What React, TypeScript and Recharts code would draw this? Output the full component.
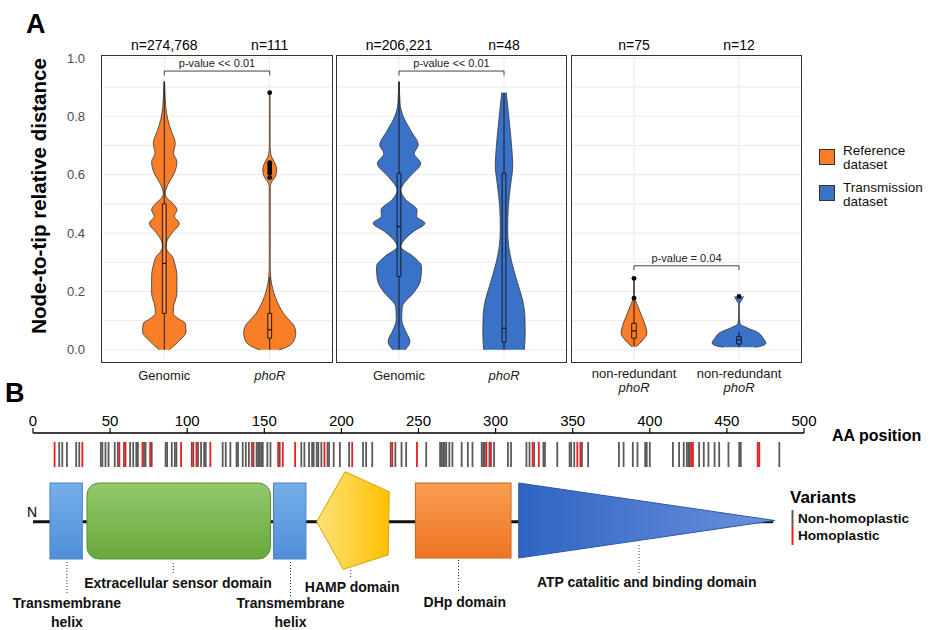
import React from 'react';
import {
  Area,
  CartesianGrid,
  ComposedChart,
  ReferenceArea,
  ReferenceDot,
  ReferenceLine,
  XAxis,
  YAxis,
} from 'recharts';

const FONT = '"Liberation Sans", Arial, Helvetica, sans-serif';
const ORANGE = '#fa7d28';
const BLUE = '#3a72c8';
const OUTLINE = '#333333';

// ---------- panel A: violin profiles (value, half width in category units) ----------
const refGenomicY = [0.919, 0.87, 0.833, 0.793, 0.75, 0.708, 0.673, 0.645, 0.605, 0.575, 0.559, 0.536, 0.519, 0.5, 0.479, 0.457, 0.434, 0.4, 0.375, 0.354, 0.335, 0.32, 0.297, 0.251, 0.194, 0.148, 0.125, 0.105, 0.091, 0.062, 0.028, 0.0];
const refGenomicW = [0.003, 0.008, 0.014, 0.031, 0.066, 0.104, 0.088, 0.12, 0.095, 0.047, 0.026, 0.009, 0.028, 0.085, 0.12, 0.095, 0.142, 0.073, 0.028, 0.014, 0.038, 0.076, 0.098, 0.12, 0.12, 0.088, 0.085, 0.142, 0.199, 0.206, 0.133, 0.047];
const refPhoRY = [0.881, 0.84, 0.7, 0.67, 0.656, 0.635, 0.616, 0.595, 0.576, 0.56, 0.3, 0.245, 0.21, 0.183, 0.15, 0.125, 0.1, 0.086, 0.057, 0.028, 0.005, 0.0];
const refPhoRW = [0.003, 0.003, 0.004, 0.01, 0.025, 0.055, 0.066, 0.055, 0.02, 0.005, 0.004, 0.01, 0.028, 0.05, 0.09, 0.13, 0.19, 0.225, 0.247, 0.225, 0.13, 0.09];
const trGenomicY = [0.919, 0.845, 0.799, 0.75, 0.702, 0.673, 0.639, 0.594, 0.565, 0.548, 0.514, 0.479, 0.457, 0.434, 0.405, 0.375, 0.354, 0.32, 0.285, 0.24, 0.194, 0.16, 0.148, 0.103, 0.068, 0.028, 0.0];
const trGenomicW = [0.003, 0.01, 0.041, 0.114, 0.183, 0.145, 0.206, 0.104, 0.038, 0.016, 0.066, 0.171, 0.168, 0.247, 0.136, 0.047, 0.016, 0.136, 0.215, 0.206, 0.136, 0.047, 0.031, 0.026, 0.057, 0.104, 0.057];
const trPhoRY = [0.881, 0.8, 0.696, 0.63, 0.573, 0.491, 0.411, 0.354, 0.297, 0.228, 0.171, 0.114, 0.057, 0.0];
const trPhoRW = [0.022, 0.045, 0.073, 0.083, 0.066, 0.041, 0.035, 0.045, 0.076, 0.13, 0.177, 0.199, 0.202, 0.193];
const nrRefY = [0.245, 0.19, 0.177, 0.17, 0.148, 0.114, 0.08, 0.057, 0.034, 0.011];
const nrRefW = [0.003, 0.005, 0.01, 0.014, 0.038, 0.076, 0.111, 0.123, 0.085, 0.022];
const nrTrY = [0.183, 0.17, 0.155, 0.12, 0.09, 0.075, 0.062, 0.04, 0.023, 0.012, 0.009];
const nrTrW = [0.043, 0.024, 0.003, 0.003, 0.01, 0.08, 0.168, 0.23, 0.256, 0.2, 0.15];

// box stats: [lower whisker, q1, median, q3, upper whisker]
const refGenomicBox = [0, 0.125, 0.296, 0.5, 0.919];
const refPhoRBox = [0, 0.04, 0.069, 0.125, 0.25];
const trGenomicBox = [0, 0.251, 0.422, 0.605, 0.919];
const trPhoRBox = [0, 0.026, 0.074, 0.605, 0.881];
const nrRefBox = [0.011, 0.04, 0.065, 0.091, 0.168];
const nrTrBox = [0.009, 0.02, 0.034, 0.045, 0.062];

const refPhoROutliers = [0.59, 0.605, 0.613, 0.62, 0.627, 0.634, 0.641, 0.881];
const nrRefOutliers = [0.177, 0.245];
const nrTrOutliers = [0.183];

const yTicks = [0, 0.2, 0.4, 0.6, 0.8, 1.0];
const gridY = [0, 0.1, 0.2, 0.3, 0.4, 0.5, 0.6, 0.7, 0.8, 0.9, 1.0];

const facets = [
  {
    left: 0, width: 333, showY: true,
    ns: ['n=274,768', 'n=111'],
    labels: [[{ t: 'Genomic' }], [{ t: 'phoR', i: true }]],
    pLabel: 'p-value << 0.01', pY: 0.955,
    violins: [
      { key: 'a', pos: 1, color: ORANGE, ys: refGenomicY, ws: refGenomicW, box: refGenomicBox, out: [] as number[] },
      { key: 'b', pos: 2, color: ORANGE, ys: refPhoRY, ws: refPhoRW, box: refPhoRBox, out: refPhoROutliers },
    ],
  },
  {
    left: 336, width: 231, showY: false,
    ns: ['n=206,221', 'n=48'],
    labels: [[{ t: 'Genomic' }], [{ t: 'phoR', i: true }]],
    pLabel: 'p-value << 0.01', pY: 0.955,
    violins: [
      { key: 'c', pos: 1, color: BLUE, ys: trGenomicY, ws: trGenomicW, box: trGenomicBox, out: [] as number[] },
      { key: 'd', pos: 2, color: BLUE, ys: trPhoRY, ws: trPhoRW, box: trPhoRBox, out: [] as number[] },
    ],
  },
  {
    left: 571, width: 231, showY: false,
    ns: ['n=75', 'n=12'],
    labels: [[{ t: 'non-redundant' }, { t: 'phoR', i: true }], [{ t: 'non-redundant' }, { t: 'phoR', i: true }]],
    pLabel: 'p-value = 0.04', pY: 0.288,
    violins: [
      { key: 'e', pos: 1, color: ORANGE, ys: nrRefY, ws: nrRefW, box: nrRefBox, out: nrRefOutliers },
      { key: 'f', pos: 2, color: BLUE, ys: nrTrY, ws: nrTrW, box: nrTrBox, out: nrTrOutliers },
    ],
  },
];

// ---------- panel B ----------
const aaTicks = [0, 50, 100, 150, 200, 250, 300, 350, 400, 450, 500];
const nonHomoplastic = [17, 19, 22, 28, 30, 44, 45, 47, 49, 53, 55, 59, 63, 65, 67, 68, 72, 73, 77, 86, 87, 90, 92, 93, 104, 107, 109, 111, 112, 123, 125, 128, 132, 133, 136, 138, 140, 143, 145, 146, 147, 148, 149, 152, 154, 160, 174, 176, 179, 181, 182, 184, 185, 187, 191, 192, 195, 199, 205, 214, 216, 220, 232, 235, 239, 242, 255, 264, 265, 266, 267, 268, 270, 272, 278, 282, 285, 291, 292, 293, 296, 299, 308, 310, 320, 322, 325, 331, 332, 340, 348, 349, 351, 356, 360, 380, 383, 389, 392, 397, 398, 400, 415, 419, 422, 424, 425, 426, 432, 435, 438, 442, 445, 451, 458, 459, 484];
const homoplastic = [14, 32, 56, 60, 71, 76, 96, 103, 106, 115, 142, 159, 162, 170, 189, 207, 233, 249, 294, 297, 324, 328, 353, 355, 427, 428, 470, 471];

const domainKinds = ['tm', 'sensor', 'tm', 'hamp', 'dhp', 'atp'];
const domainStart = [11, 35, 156, 184, 248, 315];
const domainEnd = [32, 154, 177, 231, 310, 481];
const leaderAA = [22, 91, 167, 206, 276, 393];
const leaderTop = [129, 130, 129, 137, 127, 112];
const leaderBottom = [162, 140, 165, 144, 160, 140];
const labelAA = [22, 94, 167, 207, 280, 398];
const labelY = [170, 150, 170, 154, 169, 149];
const labelText = [
  ['Transmembrane', 'helix'],
  ['Extracellular sensor domain'],
  ['Transmembrane', 'helix'],
  ['HAMP domain'],
  ['DHp domain'],
  ['ATP catalitic and binding domain'],
];
// invisible rows that give the layout axis of panel B its extent
const layoutRows = [
  { a: 0, b: 0 },
  { a: 500, b: 197 },
];

function buildRows(violins: any[]) {
  const rows: any[] = [];
  violins.forEach((v) => {
    v.ys.forEach((y: number, i: number) => {
      rows.push({ y, [v.key + 'L']: v.pos - v.ws[i], [v.key + 'R']: v.pos + v.ws[i] });
    });
  });
  return rows.sort((a, b) => b.y - a.y);
}

function Facet({ facet }: { facet: any }) {
  const rows = buildRows(facet.violins);
  const bw = facet.pY < 0.5 ? 0.022 : 0.018;
  return (
    <div style={{ position: 'absolute', left: facet.left, top: 0 }}>
      <ComposedChart
        layout="vertical"
        width={facet.width}
        height={400}
        data={rows}
        margin={{ top: 35, right: 0, bottom: 0, left: facet.showY ? 50 : 0 }}
      >
        <CartesianGrid stroke="#ebebeb" horizontalValues={gridY} verticalValues={[1, 2]} />
        <XAxis
          type="number"
          domain={[0.4, 2.6]}
          ticks={[1, 2]}
          allowDataOverflow
          height={37}
          axisLine={false}
          tickLine={false}
          tickSize={0}
          tickMargin={0}
          tick={(p: any) => (
            <g>
              {facet.labels[p.payload.value - 1].map((l: any, i: number, arr: any[]) => (
                <text
                  key={i}
                  x={p.x}
                  y={p.y + (arr.length > 1 ? 15 + i * 14 : 17)}
                  textAnchor="middle"
                  fontSize={13}
                  fontStyle={l.i ? 'italic' : 'normal'}
                  fill="#1a1a1a"
                  fontFamily={FONT}
                >
                  {l.t}
                </text>
              ))}
            </g>
          )}
        />
        <XAxis
          xAxisId="top"
          orientation="top"
          type="number"
          domain={[0.4, 2.6]}
          ticks={[1, 2]}
          allowDataOverflow
          height={20}
          axisLine={false}
          tickLine={false}
          tickSize={0}
          tickMargin={0}
          tick={(p: any) => (
            <text x={p.x} y={p.y - 5} textAnchor="middle" fontSize={14} fill="#000" fontFamily={FONT}>
              {facet.ns[p.payload.value - 1]}
            </text>
          )}
        />
        <YAxis
          type="number"
          dataKey="y"
          domain={[-0.045, 1.01]}
          allowDataOverflow
          reversed
          ticks={yTicks}
          hide={!facet.showY}
          width={51}
          axisLine={false}
          tickLine={false}
          tickSize={0}
          tickMargin={16}
          tickFormatter={(v: number) => v.toFixed(1)}
          tick={{ fontSize: 13, fill: '#4d4d4d', fontFamily: FONT }}
        />
        {facet.violins.map((v: any) =>
          ['L', 'R'].map((side) => (
            <Area
              key={v.key + side}
              dataKey={v.key + side}
              baseValue={v.pos}
              type="monotone"
              stroke={OUTLINE}
              strokeWidth={0.8}
              fill={v.color}
              fillOpacity={1}
              connectNulls
              dot={false}
              activeDot={false}
              isAnimationActive={false}
            />
          ))
        )}
        {facet.violins.map((v: any) => (
          <ReferenceLine
            key={v.key + 'wl'}
            segment={[{ x: v.pos, y: v.box[0] }, { x: v.pos, y: v.box[1] }]}
            stroke="#111"
            strokeWidth={0.9}
          />
        ))}
        {facet.violins.map((v: any) => (
          <ReferenceLine
            key={v.key + 'wh'}
            segment={[{ x: v.pos, y: v.box[3] }, { x: v.pos, y: v.box[4] }]}
            stroke="#111"
            strokeWidth={0.9}
          />
        ))}
        {facet.violins.map((v: any) => (
          <ReferenceArea
            key={v.key + 'box'}
            x1={v.pos - bw}
            x2={v.pos + bw}
            y1={v.box[1]}
            y2={v.box[3]}
            fill="none"
            stroke="#111"
            strokeWidth={0.9}
          />
        ))}
        {facet.violins.map((v: any) => (
          <ReferenceLine
            key={v.key + 'med'}
            segment={[{ x: v.pos - bw, y: v.box[2] }, { x: v.pos + bw, y: v.box[2] }]}
            stroke="#111"
            strokeWidth={1.2}
          />
        ))}
        {facet.violins.map((v: any) =>
          v.out.map((o: number, i: number) => (
            <ReferenceDot key={v.key + 'o' + i} x={v.pos} y={o} r={2.4} fill="#000" stroke="none" />
          ))
        )}
        <ReferenceLine
          segment={[{ x: 1, y: facet.pY }, { x: 2, y: facet.pY }]}
          stroke="#444"
          strokeWidth={1}
          label={{ value: facet.pLabel, position: 'top', offset: 4, fontSize: 11, fill: '#222', fontFamily: FONT }}
        />
        <ReferenceLine segment={[{ x: 1, y: facet.pY }, { x: 1, y: facet.pY - 0.015 }]} stroke="#444" strokeWidth={1} />
        <ReferenceLine segment={[{ x: 2, y: facet.pY }, { x: 2, y: facet.pY - 0.015 }]} stroke="#444" strokeWidth={1} />
      </ComposedChart>
    </div>
  );
}

function DomainShape(props: any) {
  const { x, y, width: w, height: h, kind } = props;
  if (kind === 'hamp') {
    const pts = [
      [x, y + h * 0.512],
      [x + w * 0.39, y],
      [x + w, y + h * 0.205],
      [x + w * 0.986, y + h * 0.853],
      [x + w * 0.366, y + h],
    ].map((p) => p.join(',')).join(' ');
    return <polygon points={pts} fill="url(#hampGrad)" stroke="#d7a300" strokeWidth={1} />;
  }
  if (kind === 'atp') {
    const pts = [[x, y], [x + w, y + h / 2], [x, y + h]].map((p) => p.join(',')).join(' ');
    return <polygon points={pts} fill="url(#atpGrad)" stroke="#2b55a8" strokeWidth={1} />;
  }
  if (kind === 'sensor') {
    return <rect x={x} y={y} width={w} height={h} rx={12} ry={12} fill="url(#sensorGrad)" stroke="#5d9237" strokeWidth={1} />;
  }
  if (kind === 'dhp') {
    return <rect x={x} y={y} width={w} height={h} fill="url(#dhpGrad)" stroke="#c8621c" strokeWidth={1} />;
  }
  return <rect x={x} y={y} width={w} height={h} fill="url(#tmGrad)" stroke="#4a82c4" strokeWidth={1} />;
}

function PanelB() {
  const tops = { tm: 50, sensor: 50, hamp: 38.7, dhp: 50, atp: 50 } as any;
  const bottoms = { tm: 126, sensor: 126, hamp: 136.3, dhp: 125, atp: 125 } as any;
  return (
    <div style={{ position: 'absolute', left: 0, top: 380 }}>
      <ComposedChart width={933} height={250} data={layoutRows} margin={{ top: 23, right: 129, bottom: 0, left: 33 }}>
        <defs>
          <linearGradient id="tmGrad" x1="0" y1="0" x2="0" y2="1">
            <stop offset="0%" stopColor="#76aee9" />
            <stop offset="100%" stopColor="#4f8fd9" />
          </linearGradient>
          <linearGradient id="sensorGrad" x1="0" y1="0" x2="0" y2="1">
            <stop offset="0%" stopColor="#92c96b" />
            <stop offset="100%" stopColor="#68a83c" />
          </linearGradient>
          <linearGradient id="hampGrad" x1="0" y1="0" x2="1" y2="0">
            <stop offset="0%" stopColor="#ffe27a" />
            <stop offset="100%" stopColor="#ffc000" />
          </linearGradient>
          <linearGradient id="dhpGrad" x1="0" y1="0" x2="0" y2="1">
            <stop offset="0%" stopColor="#f99e52" />
            <stop offset="100%" stopColor="#ef7422" />
          </linearGradient>
          <linearGradient id="atpGrad" x1="0" y1="0" x2="1" y2="0">
            <stop offset="0%" stopColor="#2f64c3" />
            <stop offset="100%" stopColor="#6a92dc" />
          </linearGradient>
        </defs>
        <XAxis
          type="number"
          dataKey="a"
          orientation="top"
          domain={[0, 500]}
          allowDataOverflow
          ticks={aaTicks}
          height={30}
          axisLine={{ stroke: '#000', strokeWidth: 1.5 }}
          tickLine={{ stroke: '#000', strokeWidth: 1.2 }}
          tickSize={5}
          tickMargin={2}
          tick={{ fontSize: 15, fill: '#000', fontFamily: FONT }}
        />
        <YAxis type="number" dataKey="b" domain={[0, 197]} allowDataOverflow reversed hide />
        <Area dataKey="b" stroke="none" fill="none" isAnimationActive={false} dot={false} activeDot={false} />
        <ReferenceArea x1={0} x2={480} y1={87.3} y2={90.3} fill="#111" fillOpacity={1} stroke="none" />
        {domainKinds.map((k, i) => (
          <ReferenceArea
            key={'dom' + i}
            x1={domainStart[i]}
            x2={domainEnd[i]}
            y1={tops[k]}
            y2={bottoms[k]}
            shape={(p: any) => <DomainShape {...p} kind={k} />}
          />
        ))}
        {nonHomoplastic.map((p) => (
          <ReferenceLine key={'nh' + p} segment={[{ x: p, y: 9 }, { x: p, y: 34 }]} stroke="#5a5a5a" strokeWidth={1.8} />
        ))}
        {homoplastic.map((p) => (
          <ReferenceLine key={'h' + p} segment={[{ x: p, y: 9 }, { x: p, y: 34 }]} stroke="#ee1c1c" strokeWidth={1.8} />
        ))}
        {leaderAA.map((a, i) => (
          <ReferenceLine
            key={'ld' + i}
            segment={[{ x: a, y: leaderTop[i] }, { x: a, y: leaderBottom[i] }]}
            stroke="#333"
            strokeWidth={1}
            strokeDasharray="1 2"
          />
        ))}
        {labelAA.map((a, i) => (
          <ReferenceDot
            key={'lb' + i}
            x={a}
            y={labelY[i]}
            r={1}
            fill="none"
            stroke="none"
            label={(p: any) => (
              <g>
                {labelText[i].map((t, j) => (
                  <text
                    key={j}
                    x={p.viewBox.x + (p.viewBox.width || 0) / 2}
                    y={p.viewBox.y + (p.viewBox.height || 0) / 2 + 5 + j * 18.7}
                    textAnchor="middle"
                    fontSize={14}
                    fontWeight="bold"
                    fill="#111"
                    fontFamily={FONT}
                  >
                    {t}
                  </text>
                ))}
              </g>
            )}
          />
        ))}
      </ComposedChart>
    </div>
  );
}

export default function App() {
  return (
    <div
      style={{
        position: 'absolute',
        left: 0,
        top: 0,
        width: 933,
        height: 630,
        background: '#fff',
        overflow: 'hidden',
        fontFamily: FONT,
      }}
    >
      {facets.map((f, i) => (
        <Facet key={i} facet={f} />
      ))}
      {[
        [101, 232],
        [336, 231],
        [571, 231],
      ].map(([l, w], i) => (
        <div
          key={'border' + i}
          style={{
            position: 'absolute',
            left: l,
            top: 55,
            width: w,
            height: 308,
            border: '1px solid #333',
            boxSizing: 'border-box',
            pointerEvents: 'none',
          }}
        />
      ))}
      <PanelB />
      <svg width={933} height={630} style={{ position: 'absolute', left: 0, top: 0, pointerEvents: 'none' }}>
        <text x={26} y={33} fontSize={27} fontWeight="bold" fontFamily={FONT} fill="#000">A</text>
        <text x={5} y={402} fontSize={27} fontWeight="bold" fontFamily={FONT} fill="#000">B</text>
        <text
          transform="translate(46, 196) rotate(-90)"
          textAnchor="middle"
          fontSize={20.5}
          fontWeight="bold"
          fontFamily={FONT}
          fill="#000"
        >
          Node-to-tip relative distance
        </text>
        <rect x={819.5} y={149.5} width={15} height={15} fill={ORANGE} stroke="#333" strokeWidth={1} />
        <rect x={819.5} y={185.5} width={15} height={15} fill={BLUE} stroke="#333" strokeWidth={1} />
        <text x={843} y={155} fontSize={13.5} fontFamily={FONT} fill="#111">Reference</text>
        <text x={843} y={169} fontSize={13.5} fontFamily={FONT} fill="#111">dataset</text>
        <text x={843} y={192} fontSize={13.5} fontFamily={FONT} fill="#111">Transmission</text>
        <text x={843} y={206} fontSize={13.5} fontFamily={FONT} fill="#111">dataset</text>
        <text x={832} y={441} fontSize={16} fontWeight="bold" fontFamily={FONT} fill="#000">AA position</text>
        <text x={27} y={517} fontSize={14} fontFamily={FONT} fill="#000">N</text>
        <text x={790} y={503} fontSize={17} fontWeight="bold" fontFamily={FONT} fill="#000">Variants</text>
        <line x1={792.5} y1={510} x2={792.5} y2={527} stroke="#5a5a5a" strokeWidth={2} />
        <line x1={792.5} y1={527} x2={792.5} y2={545} stroke="#ee1c1c" strokeWidth={2} />
        <text x={798} y={523} fontSize={13.6} fontWeight="bold" fontFamily={FONT} fill="#111">Non-homoplastic</text>
        <text x={798} y={540} fontSize={13.6} fontWeight="bold" fontFamily={FONT} fill="#111">Homoplastic</text>
      </svg>
    </div>
  );
}
